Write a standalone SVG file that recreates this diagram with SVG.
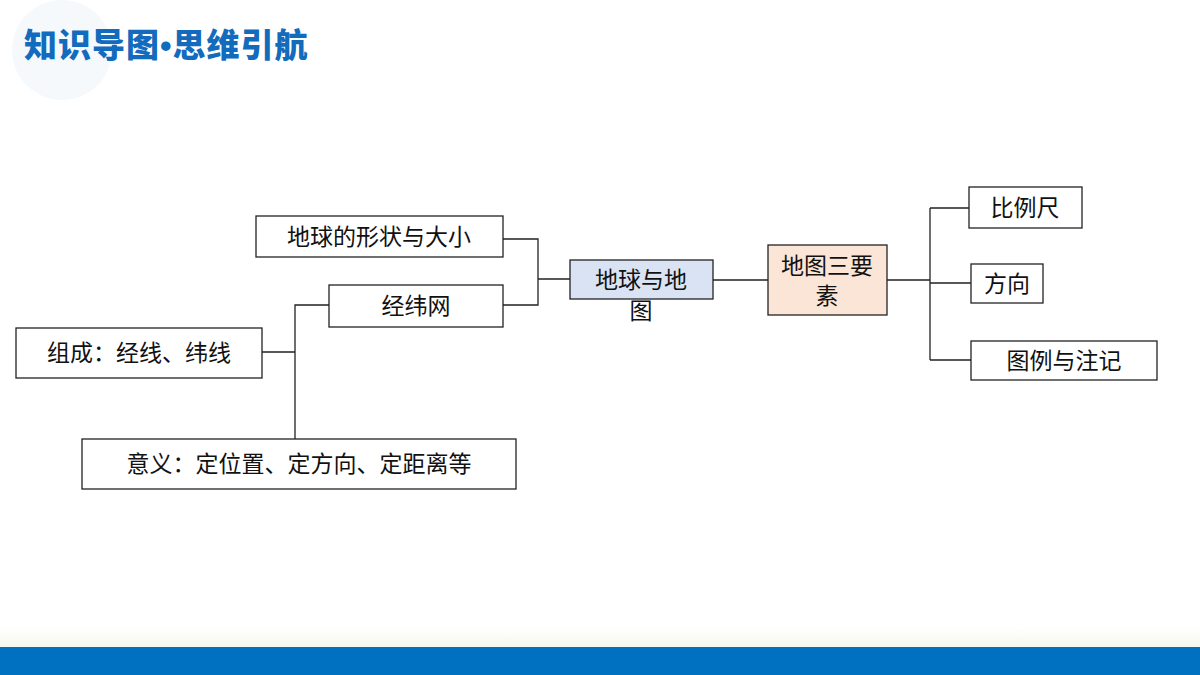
<svg xmlns="http://www.w3.org/2000/svg" width="1200" height="675" viewBox="0 0 1200 675">
<defs>
<style>
.b{fill:#fff;stroke:#222;stroke-width:1.3}
.t{font-family:"Liberation Sans","Noto Sans CJK SC",sans-serif;font-size:23px;fill:#111;text-anchor:middle}
.c{fill:none;stroke:#222;stroke-width:1.3}
</style>
<linearGradient id="g" x1="0" y1="0" x2="0" y2="1"><stop offset="0" stop-color="#fff"/><stop offset="1" stop-color="#f6f7ee"/></linearGradient>
</defs>
<rect width="1200" height="675" fill="#fff"/>
<circle cx="62" cy="50" r="50" fill="#f6f9fc"/>
<text x="24" y="57" font-family="'Noto Sans CJK SC',sans-serif" font-weight="900" font-size="33" fill="#136bbd" letter-spacing="1">知识导图<tspan font-family="'Liberation Sans',sans-serif">•</tspan>思维引航</text>
<rect x="0" y="628" width="1200" height="19" fill="url(#g)"/>
<rect x="0" y="647" width="1200" height="28" fill="#0070c0"/>
<g id="connectors">
<path class="c" d="M503,239H538V305H503M538,279H570M713,280H768M887,280H930M930,208V360M930,208H969M930,283H971M930,360H971M329,305H295V439M262,352H295"/>
</g>
<g id="n1"><rect class="b" x="256" y="216" width="247" height="41"/><text class="t" x="379" y="245">地球的形状与大小</text></g>
<g id="n2"><rect class="b" x="329" y="285" width="174" height="42"/><text class="t" x="416" y="314">经纬网</text></g>
<g id="n3"><rect class="b" x="16" y="328" width="246" height="50"/><text class="t" x="139" y="361">组成：经线、纬线</text></g>
<g id="n4"><rect class="b" x="82" y="439" width="434" height="50"/><text class="t" x="299" y="472">意义：定位置、定方向、定距离等</text></g>
<g id="n5"><rect x="570" y="260" width="143" height="39" fill="#dae3f3" stroke="#222" stroke-width="1.3"/><text class="t" x="641" y="288">地球与地</text><text class="t" x="641" y="319">图</text></g>
<g id="n6"><rect x="768" y="245" width="119" height="70" fill="#fbe5d6" stroke="#222" stroke-width="1.3"/><text class="t" x="827" y="274">地图三要</text><text class="t" x="827" y="304">素</text></g>
<g id="n7"><rect class="b" x="969" y="187" width="113" height="41"/><text class="t" x="1025" y="216">比例尺</text></g>
<g id="n8"><rect class="b" x="971" y="264" width="72" height="39"/><text class="t" x="1007" y="292">方向</text></g>
<g id="n9"><rect class="b" x="971" y="341" width="186" height="39"/><text class="t" x="1064" y="369">图例与注记</text></g>
</svg>
